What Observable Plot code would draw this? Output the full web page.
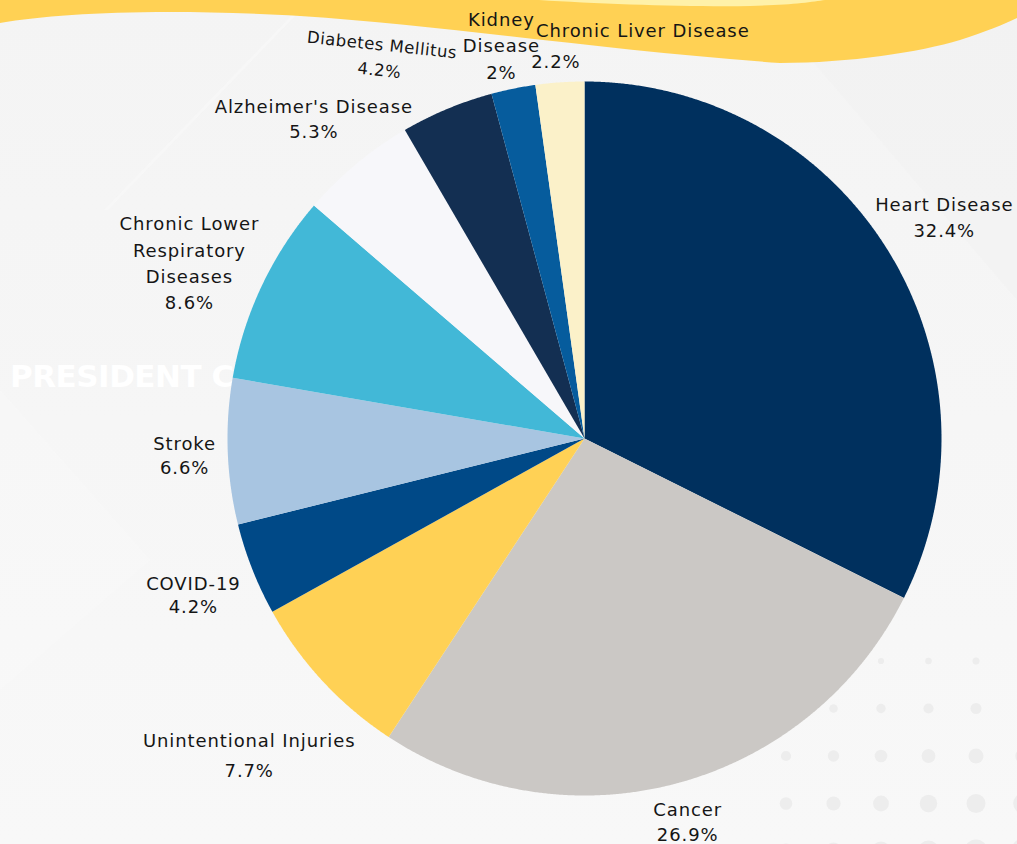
<!DOCTYPE html>
<html><head><meta charset="utf-8">
<script src="https://cdn.jsdelivr.net/npm/d3@7"></script>
<script src="https://cdn.jsdelivr.net/npm/@observablehq/plot@0.6"></script>
<style>
html,body{margin:0;padding:0;}
body{width:1017px;height:844px;overflow:hidden;background:#f6f6f6;}
#wrap{position:relative;width:1017px;height:844px;overflow:hidden;}
#bg{position:absolute;left:0;top:0;}
#chart{position:absolute;left:0;top:0;}
</style></head><body>
<div id="wrap"><svg id="bg" width="1017" height="844" xmlns="http://www.w3.org/2000/svg"></svg><div id="chart"></div></div>
<script>
// ---- data ----
const causes = ["Heart Disease","Cancer","Unintentional Injuries","COVID-19","Stroke","Chronic Lower Respiratory Diseases","Alzheimer's Disease","Diabetes Mellitus","Kidney Disease","Chronic Liver Disease"];
const shares = [32.4,26.9,7.7,4.2,6.6,8.6,5.3,4.2,2,2.2];
const labelNames = [["Heart Disease"],["Cancer"],["Unintentional Injuries"],["COVID-19"],["Stroke"],["Chronic Lower","Respiratory","Diseases"],["Alzheimer's Disease"],["Diabetes Mellitus"],["Kidney","Disease"],["Chronic Liver Disease"]];
const colors = ["#00305e","#cbc8c5","#ffd155","#004987","#a8c5e1","#42b8d7","#f7f7fa","#132f52","#065c9d","#fbf1c9"];

// ---- layout (label placement relative to slice mid-angle) ----
const labelLayout = [
  {k:1.185, shift:0,    lh:1.4},
  {k:1.109, shift:0,    lh:1.4},
  {k:1.286, shift:-0.2, lh:1.72},
  {k:1.179, shift:-0.2, lh:1.28},
  {k:1.121, shift:-0.2, lh:1.33},
  {k:1.213, shift:-1.1, lh:1.46},
  {k:1.176, shift:-0.4, lh:1.4},
  {k:1.216, shift:-5.3, lh:1.55, rotate:6, size:16.5},
  {k:1.129, shift:-0.4, lh:1.45},
  {split:true, nameK:1.153, nameShift:12.1, valueK:1.056, valueShift:-0.4}
];

const R = 357, CX = 584, CY = 438, FS = 18;
const arcs = d3.pie().sort(null).value(d => d)(shares);

// slice polygons
const pts = [];
arcs.forEach((a, i) => {
  pts.push({cause: causes[i], x: 0, y: 0});
  const n = Math.max(2, Math.ceil((a.endAngle - a.startAngle) / 0.004));
  for (let j = 0; j <= n; j++) {
    const t = a.startAngle + (a.endAngle - a.startAngle) * j / n;
    pts.push({cause: causes[i], x: Math.sin(t), y: Math.cos(t)});
  }
});

const deg = Math.PI / 180;
const textMarks = [];
arcs.forEach((a, i) => {
  const mid = (a.startAngle + a.endAngle) / 2;
  const L = labelLayout[i];
  const pct = shares[i] + "%";
  if (L.split) {
    const an = mid + L.nameShift * deg, av = mid + L.valueShift * deg;
    textMarks.push(Plot.text([{x: L.nameK*Math.sin(an), y: L.nameK*Math.cos(an), t: labelNames[i].join("\n")}],
      {x:"x", y:"y", text:"t", fontSize:FS, fill:"#151515"}));
    textMarks.push(Plot.text([{x: L.valueK*Math.sin(av), y: L.valueK*Math.cos(av), t: pct}],
      {x:"x", y:"y", text:"t", fontSize:FS, fill:"#151515"}));
  } else {
    const am = mid + L.shift * deg;
    textMarks.push(Plot.text([{x: L.k*Math.sin(am), y: L.k*Math.cos(am), t: [...labelNames[i], pct].join("\n")}],
      {x:"x", y:"y", text:"t", fontSize: L.size || FS, lineHeight: L.lh, rotate: L.rotate || 0, fill:"#151515"}));
  }
});

const chart = Plot.plot({
  width: 1017, height: 844, margin: 0,
  x: {domain: [-1, 1], range: [CX - R, CX + R], axis: null},
  y: {domain: [-1, 1], range: [CY + R, CY - R], axis: null},
  color: {domain: causes, range: colors},
  style: {background: "transparent", fontFamily: "'DejaVu Sans', sans-serif", letterSpacing: "0.9px", overflow: "visible"},
  marks: [
    Plot.line(pts, {x: "x", y: "y", z: "cause", fill: "cause", stroke: null, curve: "linear"}),
    ...textMarks
  ]
});
document.getElementById("chart").appendChild(chart);
d3.select(chart).selectAll("text").filter(function(){ return this.textContent.includes("Diabetes"); }).style("letter-spacing", "0.5px");

// ---- background decoration ----
const bg = d3.select("#bg");
const defs = bg.append("defs");
const g = defs.append("linearGradient").attr("id","bgg").attr("x1",0).attr("y1",0).attr("x2",0).attr("y2",1);
g.append("stop").attr("offset","0").attr("stop-color","#f4f4f4");
g.append("stop").attr("offset","1").attr("stop-color","#f8f8f8");
bg.append("rect").attr("width",1017).attr("height",844).attr("fill","url(#bgg)");
bg.append("path").attr("d","M292,15 L296,15 L108,210 L104,210 Z").attr("fill","#f8f8f8").attr("opacity",0.6);
bg.append("path").attr("d","M0,390 L150,560 L0,690 Z").attr("fill","#f9f9f9").attr("opacity",0.4);
bg.append("path").attr("d","M760,0 L1017,0 L1017,300 Z").attr("fill","#f1f1f1").attr("opacity",0.4);
bg.append("path").attr("d","M0,0 L0,23 C60,13 160,8 300,16 C450,26 600,50 780,63 C850,63 920,52 960,40 C985,32 1005,24 1017,18 L1017,0 Z").attr("fill","#ffd154");
bg.append("path").attr("d","M539,0 C600,4 690,7 750,6 C790,5 812,2 825,0 Z").attr("fill","#fff1a8");
bg.append("text").attr("x",10).attr("y",387).attr("font-family","'DejaVu Sans', sans-serif").attr("font-weight","bold")
  .attr("font-size",31).attr("fill","#ffffff").attr("letter-spacing","-0.5px").text("PRESIDENT C");
for (let row = 1; row <= 5; row++) {
  for (let col = 0; col <= 5; col++) {
    if (row === 1 && (col < 2 || col > 4)) continue;
    if (row === 2 && (col < 1 || col > 4)) continue;
    const r = 1.5 + row * (1.2 + 0.2 * col);
    bg.append("circle").attr("cx", 786 + 47.5 * col).attr("cy", 661 + 47.5 * (row - 1)).attr("r", r).attr("fill","#ededed");
  }
}
</script>
</body></html>
